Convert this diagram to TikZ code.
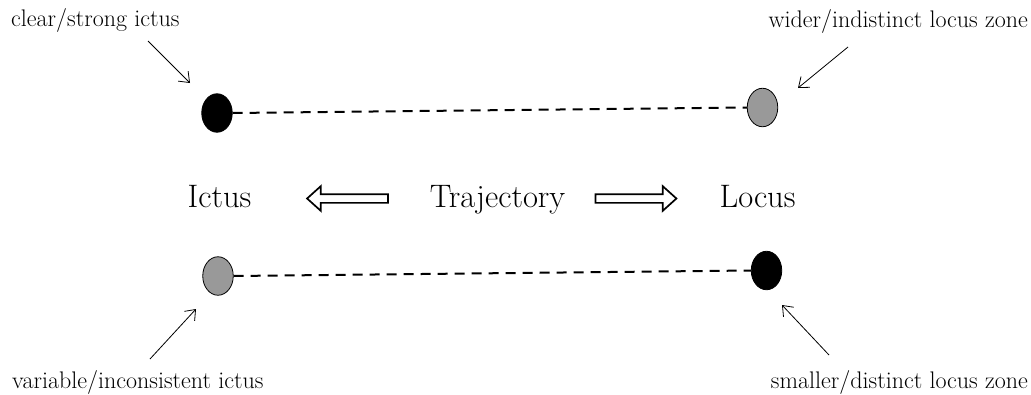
\documentclass[tikz,border=0pt]{standalone}
\usetikzlibrary{arrows.meta,shapes.arrows,shapes.geometric}
\begin{document}
\begin{tikzpicture}[x=1pt,y=-1pt,
  dot/.style={ellipse,draw=black,line width=0.8pt,minimum width=30.5pt,minimum height=38.5pt,inner sep=0pt},
  strong/.style={dot,fill=black},
  weak/.style={dot,fill=black!40},
  link/.style={line width=2pt,dash pattern=on 10pt off 7pt},
  pointer/.style={line width=0.8pt,-{Straight Barb[length=9pt,width=14pt,line width=0.8pt]}},
  note/.style={font=\fontsize{24}{28}\selectfont,inner sep=0pt},
  term/.style={font=\fontsize{32.5}{38}\selectfont,inner sep=0pt,anchor=base},
  bigarrow/.style={single arrow,draw=black,line width=1.7pt,fill=white,
    minimum height=81pt,inner sep=3.5pt,single arrow head extend=8pt,
    single arrow tip angle=84}]
\useasboundingbox (0,0) rectangle (1031,394);

% ellipses at the ends of the two trajectories
\node[strong] (ictusA) at (217,113) {};
\node[weak]   (locusA) at (762.5,107.5) {};
\node[weak]   (ictusB) at (218,276) {};
\node[strong] (locusB) at (766.5,270.5) {};

\draw[link] (ictusA.east) -- (locusA.west);
\draw[link] (ictusB.east) -- (locusB.west);

% central labels with the open arrows
\node[term] (ictus) at (219.5,207) {Ictus};
\node[term] (traj)  at (497.5,207) {Trajectory};
\node[term] (locus) at (757.5,207) {Locus};
\node[bigarrow,shape border rotate=180] (toIctus) at (350,198.5) {};
\node[bigarrow] (toLocus) at (633.5,198.5) {};

% annotations
\node[note,anchor=base west] (nA) at (11,26.5) {clear/strong ictus};
\node[note,anchor=base east] (nB) at (1028,27) {wider/indistinct locus zone};
\node[note,anchor=base west] (nC) at (12,388) {variable/inconsistent ictus};
\node[note,anchor=base east] (nD) at (1028,388) {smaller/distinct locus zone};

\coordinate (pA1) at (148,41);  \coordinate (pA2) at (190,83);
\coordinate (pB1) at (848,47);  \coordinate (pB2) at (798,88);
\coordinate (pC1) at (150,359); \coordinate (pC2) at (196,309);
\coordinate (pD1) at (829,355); \coordinate (pD2) at (782,305);
\draw[pointer] (pA1) -- (pA2);
\draw[pointer] (pB1) -- (pB2);
\draw[pointer] (pC1) -- (pC2);
\draw[pointer] (pD1) -- (pD2);
\end{tikzpicture}
\end{document}
